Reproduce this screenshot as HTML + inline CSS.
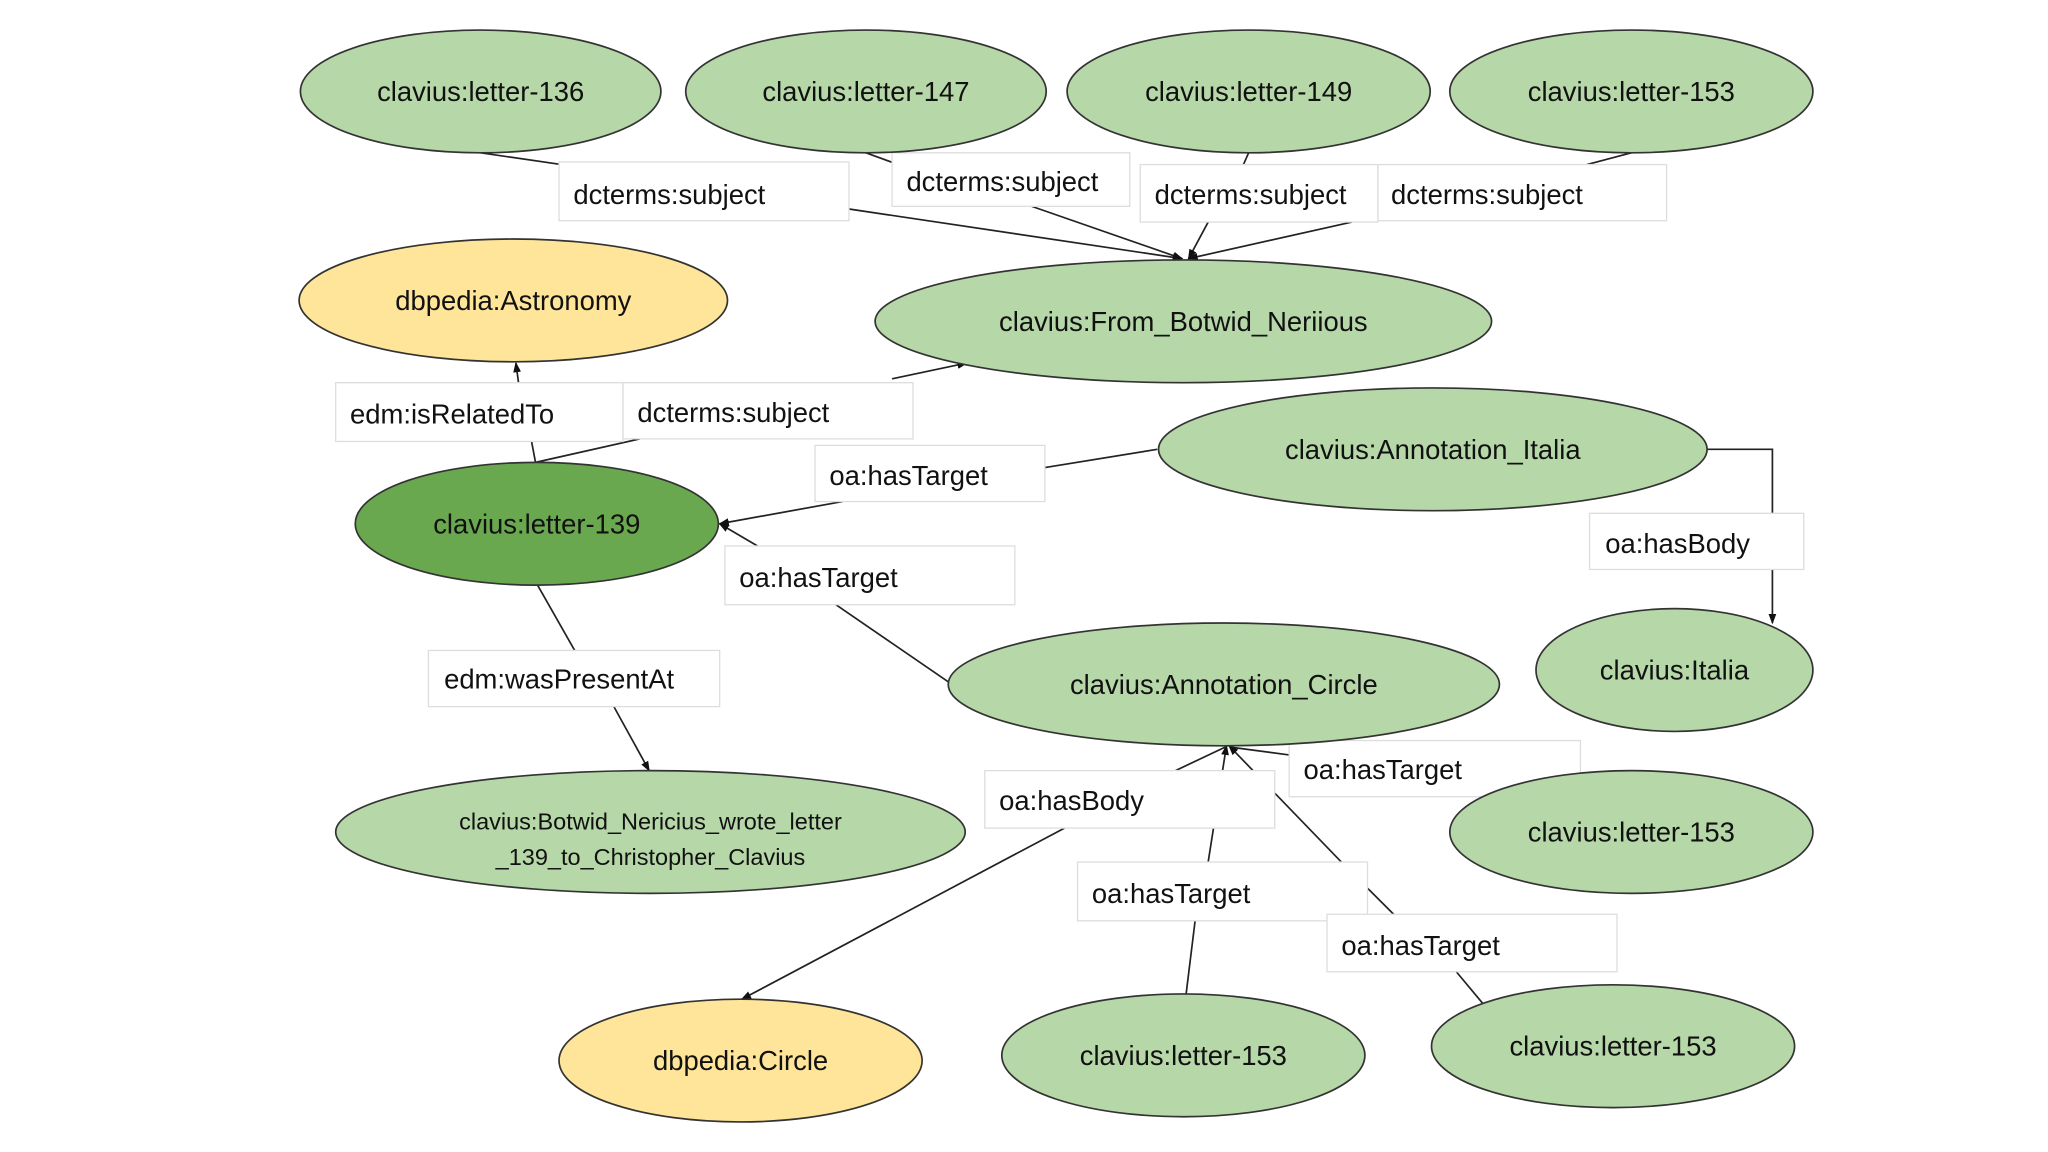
<!DOCTYPE html>
<html><head><meta charset="utf-8"><style>
html,body{margin:0;padding:0;background:#fff;}
svg{display:block;}
text{font-family:"Liberation Sans",Arial,sans-serif;fill:#111;}
.n{font-size:21px;text-anchor:middle;dominant-baseline:central;}
.l{font-size:21px;dominant-baseline:central;}
.g{fill:#b6d7a8;stroke:#333;stroke-width:1.3;}
.d{fill:#6aa84f;stroke:#333;stroke-width:1.3;}
.y{fill:#ffe599;stroke:#333;stroke-width:1.3;}
.b{fill:#fff;stroke:#ddd;stroke-width:1;}
.e{stroke:#222;stroke-width:1.3;fill:none;}
</style></head><body>
<svg width="2048" height="1152" viewBox="0 0 1568 882" preserveAspectRatio="none" xmlns="http://www.w3.org/2000/svg">
<defs><marker id="a" markerWidth="8" markerHeight="8" refX="7" refY="4" orient="auto" markerUnits="userSpaceOnUse"><path d="M0,1 L8,4 L0,7 z" fill="#111"/></marker></defs>
<rect width="1568" height="882" fill="#fff"/>
<!-- edges -->
<line class="e" x1="368" y1="117" x2="430" y2="126"/>
<line class="e" x1="650" y1="160" x2="905" y2="198" marker-end="url(#a)"/>
<line class="e" x1="663" y1="117" x2="685" y2="125"/>
<line class="e" x1="790" y1="158" x2="905" y2="198" marker-end="url(#a)"/>
<line class="e" x1="956" y1="117" x2="952" y2="126"/>
<line class="e" x1="925" y1="170" x2="910" y2="198" marker-end="url(#a)"/>
<line class="e" x1="1249" y1="117" x2="1215" y2="126"/>
<line class="e" x1="1035" y1="170" x2="910" y2="198" marker-end="url(#a)"/>
<line class="e" x1="410" y1="354" x2="407" y2="338"/>
<line class="e" x1="397" y1="293" x2="395" y2="278" marker-end="url(#a)"/>
<line class="e" x1="410" y1="354" x2="490" y2="336"/>
<line class="e" x1="683" y1="290" x2="740" y2="278" marker-end="url(#a)"/>
<line class="e" x1="886" y1="344" x2="800" y2="358"/>
<line class="e" x1="645" y1="384" x2="551" y2="401" marker-end="url(#a)"/>
<line class="e" x1="726" y1="522" x2="640" y2="463"/>
<line class="e" x1="580" y1="418" x2="551" y2="401" marker-end="url(#a)"/>
<polyline class="e" points="1307,344 1357,344 1357,393"/>
<line class="e" x1="1357" y1="436" x2="1357" y2="477" marker-end="url(#a)"/>
<line class="e" x1="411" y1="447" x2="440" y2="498"/>
<line class="e" x1="470" y1="541" x2="497" y2="590" marker-end="url(#a)"/>
<line class="e" x1="938" y1="572" x2="900" y2="590"/>
<line class="e" x1="815" y1="634" x2="568" y2="765" marker-end="url(#a)"/>
<line class="e" x1="942" y1="572" x2="987" y2="578"/>
<line class="e" x1="908" y1="762" x2="915" y2="705"/>
<line class="e" x1="925" y1="660" x2="939" y2="571" marker-end="url(#a)"/>
<line class="e" x1="1135" y1="768" x2="1115" y2="744"/>
<line class="e" x1="1067" y1="700" x2="1047" y2="680"/>
<line class="e" x1="1027" y1="660" x2="941" y2="571" marker-end="url(#a)"/>
<!-- label boxes -->
<rect class="b" x="428" y="124" width="222" height="45"/><text class="l" x="439" y="149">dcterms:subject</text>
<rect class="b" x="683" y="117" width="182" height="41"/><text class="l" x="694" y="139">dcterms:subject</text>
<rect class="b" x="873" y="126" width="182" height="44"/><text class="l" x="884" y="149">dcterms:subject</text>
<rect class="b" x="1055" y="126" width="221" height="43"/><text class="l" x="1065" y="149">dcterms:subject</text>
<rect class="b" x="257" y="293" width="220" height="45"/><text class="l" x="268" y="317">edm:isRelatedTo</text>
<rect class="b" x="477" y="293" width="222" height="43"/><text class="l" x="488" y="316">dcterms:subject</text>
<rect class="b" x="624" y="341" width="176" height="43"/><text class="l" x="635" y="364">oa:hasTarget</text>
<rect class="b" x="1217" y="393" width="164" height="43"/><text class="l" x="1229" y="416">oa:hasBody</text>
<rect class="b" x="555" y="418" width="222" height="45"/><text class="l" x="566" y="442">oa:hasTarget</text>
<rect class="b" x="328" y="498" width="223" height="43"/><text class="l" x="340" y="520">edm:wasPresentAt</text>
<rect class="b" x="987" y="567" width="223" height="43"/><text class="l" x="998" y="589">oa:hasTarget</text>
<rect class="b" x="754" y="590" width="222" height="44"/><text class="l" x="765" y="613">oa:hasBody</text>
<rect class="b" x="825" y="660" width="222" height="45"/><text class="l" x="836" y="684">oa:hasTarget</text>
<rect class="b" x="1016" y="700" width="222" height="44"/><text class="l" x="1027" y="724">oa:hasTarget</text>
<!-- nodes -->
<ellipse class="g" cx="368" cy="70" rx="138" ry="47"/><text class="n" x="368" y="70">clavius:letter-136</text>
<ellipse class="g" cx="663" cy="70" rx="138" ry="47"/><text class="n" x="663" y="70">clavius:letter-147</text>
<ellipse class="g" cx="956" cy="70" rx="139" ry="47"/><text class="n" x="956" y="70">clavius:letter-149</text>
<ellipse class="g" cx="1249" cy="70" rx="139" ry="47"/><text class="n" x="1249" y="70">clavius:letter-153</text>
<ellipse class="y" cx="393" cy="230" rx="164" ry="47"/><text class="n" x="393" y="230">dbpedia:Astronomy</text>
<ellipse class="g" cx="906" cy="246" rx="236" ry="47"/><text class="n" x="906" y="246">clavius:From_Botwid_Neriious</text>
<ellipse class="g" cx="1097" cy="344" rx="210" ry="47"/><text class="n" x="1097" y="344">clavius:Annotation_Italia</text>
<ellipse class="d" cx="411" cy="401" rx="139" ry="47"/><text class="n" x="411" y="401">clavius:letter-139</text>
<ellipse class="g" cx="1282" cy="513" rx="106" ry="47"/><text class="n" x="1282" y="513">clavius:Italia</text>
<ellipse class="g" cx="937" cy="524" rx="211" ry="47"/><text class="n" x="937" y="524">clavius:Annotation_Circle</text>
<ellipse class="g" cx="498" cy="637" rx="241" ry="47"/><text class="n" x="498" y="629" style="font-size:18px">clavius:Botwid_Nericius_wrote_letter</text><text class="n" x="498" y="656" style="font-size:18px">_139_to_Christopher_Clavius</text>
<ellipse class="g" cx="1249" cy="637" rx="139" ry="47"/><text class="n" x="1249" y="637">clavius:letter-153</text>
<ellipse class="y" cx="567" cy="812" rx="139" ry="47"/><text class="n" x="567" y="812">dbpedia:Circle</text>
<ellipse class="g" cx="906" cy="808" rx="139" ry="47"/><text class="n" x="906" y="808">clavius:letter-153</text>
<ellipse class="g" cx="1235" cy="801" rx="139" ry="47"/><text class="n" x="1235" y="801">clavius:letter-153</text>
</svg>
</body></html>
